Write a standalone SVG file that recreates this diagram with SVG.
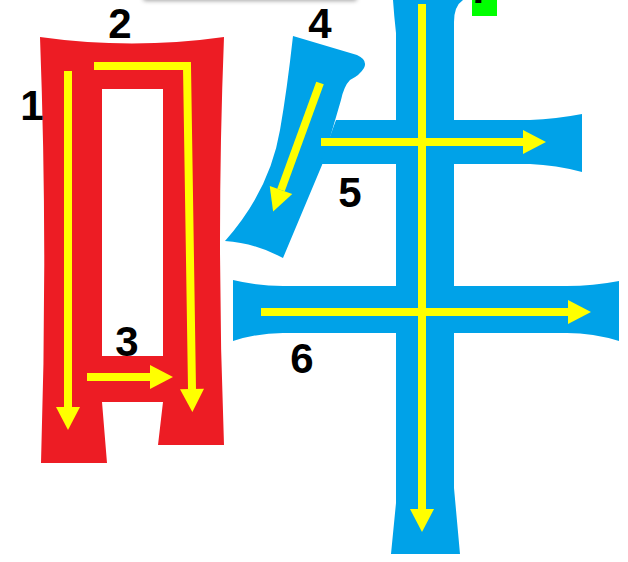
<svg xmlns="http://www.w3.org/2000/svg" width="628" height="562" viewBox="0 0 628 562">
  <style>
    .red { fill: #ED1C24; }
    .blue { fill: #00A2E8; }
    .arrow { fill: none; stroke: #FFFF00; stroke-width: 8; stroke-linejoin: miter; marker-end: url(#head); }
    .num { font-family: "Liberation Sans", Arial, sans-serif; font-weight: bold; font-size: 42px; fill: #000; text-anchor: middle; }
  </style>
  <defs>
    <marker id="head" markerUnits="userSpaceOnUse" markerWidth="24" markerHeight="24" refX="0" refY="12" orient="auto" overflow="visible">
      <path d="M0,0 L23,12 L0,24 Z" fill="#FFFF00"/>
    </marker>
    <filter id="shadow" x="-10%" y="-50%" width="120%" height="250%">
      <feDropShadow dx="0" dy="1" stdDeviation="2" flood-color="#000" flood-opacity="0.35"/>
    </filter>
  </defs>
  <rect width="628" height="562" fill="#fff"/>
  <rect x="143" y="-30" width="214" height="30" rx="3" fill="#fff" filter="url(#shadow)"/>

  <g id="radical-kou">
    <path class="red" fill-rule="evenodd" d="M40,37 Q132,50 224,37 Q216,240 224,445 L158,445 L163,402 L102,402 L107,463 L41,463 Q48,250 40,37 Z M102,89 L163,89 L163,356 L102,356 Z"/>
  </g>

  <g id="stroke-4">
    <path class="blue" d="M293,36 L357,55 Q368,60 364,68 Q360,75 350,80 Q344,86 341,100 L322,165 L283,258 Q255,243 225,241 Q270,190 280,130 Q287,90 293,36 Z"/>
  </g>
  <g id="stroke-5">
    <path class="blue" d="M336,120 L530,120 Q556,119 582,114 L582,172 Q556,165 530,164 L320,164 Z"/>
  </g>
  <g id="stroke-6">
    <path class="blue" d="M233,280 Q258,286 283,286 L567,286 Q593,286 619,281 L619,341 Q593,333 567,333 L283,333 Q258,333 233,341 Z"/>
  </g>
  <g id="stroke-7">
    <path class="blue" d="M393,0 L463,0 Q454,6 454,22 L454,488 L460,554 L391,554 L396,503 L396,33 Q394,15 393,0 Z"/>
  </g>

  <g id="connectors">
    <path class="arrow" d="M68,71 L68,407"/>
    <path class="arrow" d="M94,66 L187,66 L192,389"/>
    <path class="arrow" d="M87,377 L150,377"/>
    <path class="arrow" d="M320,83 L281,190"/>
    <path class="arrow" d="M321,142 L523,142"/>
    <path class="arrow" d="M261,312 L568,312"/>
    <path class="arrow" d="M422,4 L422,509"/>
  </g>

  <g id="labels">
    <text class="num" x="32" y="120">1</text>
    <text class="num" x="120" y="38">2</text>
    <text class="num" x="127" y="356">3</text>
    <text class="num" x="320" y="38">4</text>
    <text class="num" x="350" y="207">5</text>
    <text class="num" x="302" y="373">6</text>
    <g id="label-7">
      <rect x="472" y="-20" width="25" height="36" fill="#00FF00"/>
      <text class="num" x="481" y="3">7</text>
    </g>
  </g>
</svg>
